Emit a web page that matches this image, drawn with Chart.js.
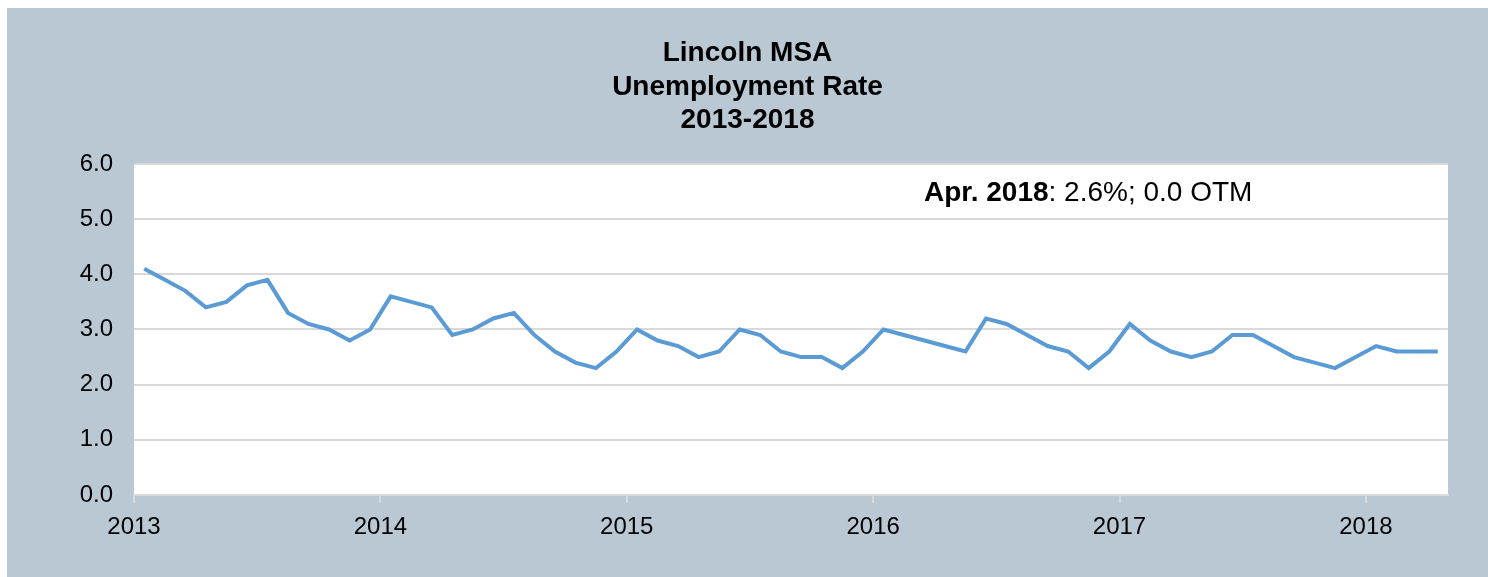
<!DOCTYPE html>
<html>
<head>
<meta charset="utf-8">
<title>Lincoln MSA Unemployment Rate</title>
<script src="https://cdn.jsdelivr.net/npm/chart.js@4.4.1/dist/chart.umd.min.js"></script>
<style>
  html, body { margin: 0; padding: 0; background: #fff; }
  #wrap { width: 1488px; height: 577px; position: relative; }
</style>
</head>
<body>
<div id="wrap"><canvas id="unempChart"></canvas></div>
<script>
// year tick labels
const years = ['2013', '2014', '2015', '2016', '2017', '2018'];

// monthly unemployment rate (%), Jan..Dec
const rate2013 = [4.1, 3.9, 3.7, 3.4, 3.5, 3.8, 3.9, 3.3, 3.1, 3.0, 2.8, 3.0];
const rate2014 = [3.6, 3.5, 3.4, 2.9, 3.0, 3.2, 3.3, 2.9, 2.6, 2.4, 2.3, 2.6];
const rate2015 = [3.0, 2.8, 2.7, 2.5, 2.6, 3.0, 2.9, 2.6, 2.5, 2.5, 2.3, 2.6];
const rate2016 = [3.0, 2.9, 2.8, 2.7, 2.6, 3.2, 3.1, 2.9, 2.7, 2.6, 2.3, 2.6];
const rate2017 = [3.1, 2.8, 2.6, 2.5, 2.6, 2.9, 2.9, 2.7, 2.5, 2.4, 2.3, 2.5];
const rate2018 = [2.7, 2.6, 2.6, 2.6]; // through April

const latestLabel = 'Apr. 2018';
const latestNote = ': 2.6%; 0.0 OTM';

const rates = [].concat(rate2013, rate2014, rate2015, rate2016, rate2017, rate2018);
const points = rates.map((v, i) => ({ x: i, y: v }));

const FONT = "'Liberation Sans', Arial, sans-serif";
const PANEL = '#bac8d3';
const GRID = '#d9d9d9';

// gray panel behind everything, white plot area
const panelBg = {
    id: 'panelBg',
    beforeDraw(chart) {
        const ctx = chart.ctx;
        const a = chart.chartArea;
        ctx.save();
        ctx.fillStyle = '#fff';
        ctx.fillRect(0, 0, chart.width, chart.height);
        ctx.fillStyle = PANEL;
        ctx.fillRect(7, 8, chart.width - 7, chart.height - 8);
        ctx.fillStyle = '#fff';
        ctx.fillRect(a.left, a.top, a.right - a.left, a.bottom - a.top);
        ctx.restore();
    }
};

// "Apr. 2018: 2.6%; 0.0 OTM" note inside the plot
const latestText = {
    id: 'latestText',
    afterDraw(chart) {
        const ctx = chart.ctx;
        const a = chart.chartArea;
        const x = a.left + 790;
        const y = a.top + 37;
        ctx.save();
        ctx.fillStyle = '#000';
        ctx.textBaseline = 'alphabetic';
        ctx.font = 'bold 28px ' + FONT;
        ctx.fillText(latestLabel, x, y);
        const w = ctx.measureText(latestLabel).width;
        ctx.font = '28px ' + FONT;
        ctx.fillText(latestNote, x + w, y);
        ctx.restore();
    }
};

const config = {
    type: 'line',
    data: {
        datasets: [{
            label: 'Unemployment Rate',
            data: points,
            borderColor: '#5b9bd5',
            borderWidth: 4,
            pointRadius: 0,
            tension: 0,
            fill: false
        }]
    },
    options: {
        responsive: false,
        animation: false,
        layout: { padding: { top: 8, left: 47, right: 40, bottom: 0 } },
        plugins: {
            legend: { display: false },
            tooltip: { enabled: false },
            title: {
                display: true,
                text: ['Lincoln MSA', 'Unemployment Rate', '2013-2018'],
                color: '#000',
                font: { family: FONT, size: 28, weight: 'bold', lineHeight: 1.19 },
                padding: { top: 29, bottom: 27 }
            }
        },
        scales: {
            x: {
                type: 'linear',
                min: -0.5,
                max: rates.length - 0.5,
                afterBuildTicks: function (scale) {
                    scale.ticks = years.map((y, k) => ({ value: -0.5 + 12 * k }));
                },
                afterFit: function (scale) { scale.height = 82; },
                grid: { drawOnChartArea: false, drawTicks: true, tickLength: 8, color: GRID, lineWidth: 2 },
                border: { color: GRID, width: 2 },
                ticks: {
                    color: '#000',
                    font: { family: FONT, size: 24 },
                    padding: 10,
                    maxRotation: 0,
                    autoSkip: false,
                    callback: function (v) { return years[Math.round((v + 0.5) / 12)]; }
                }
            },
            y: {
                min: 0,
                max: 6,
                afterFit: function (scale) { scale.width = 87; },
                grid: { color: GRID, lineWidth: 2, drawTicks: false },
                border: { display: false },
                ticks: {
                    stepSize: 1,
                    color: '#000',
                    font: { family: FONT, size: 24 },
                    padding: 21,
                    callback: function (v) { return v.toFixed(1); }
                }
            }
        }
    },
    plugins: [panelBg, latestText]
};

const canvas = document.getElementById('unempChart');
canvas.width = 1488;
canvas.height = 577;
new Chart(canvas.getContext('2d'), config);
</script>
</body>
</html>
